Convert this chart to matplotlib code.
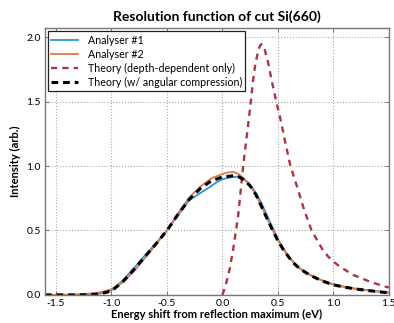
import matplotlib
matplotlib.use("Agg")
import matplotlib.pyplot as plt

plt.rcParams['font.family'] = ['Lato', 'DejaVu Sans']

# Analyser #1 (blue)
x_a1 = [-1.6, -1.3, -1.2, -1.1, -1.0, -0.9, -0.8, -0.7, -0.6, -0.5, -0.4, -0.3, -0.2, -0.1, -0.05,
        0.0, 0.05, 0.1, 0.15, 0.2, 0.25, 0.3, 0.35, 0.4, 0.45, 0.5, 0.55, 0.6, 0.65, 0.7, 0.8, 0.9, 1.0,
        1.1, 1.2, 1.3, 1.4, 1.5]
y_a1 = [0.0, 0.001, 0.004, 0.012, 0.035, 0.11, 0.205, 0.305, 0.40, 0.50, 0.62, 0.735, 0.79, 0.845, 0.875,
        0.898, 0.908, 0.915, 0.918, 0.895, 0.855, 0.795, 0.715, 0.62, 0.525, 0.432, 0.357, 0.295, 0.245,
        0.204, 0.15, 0.11, 0.08, 0.061, 0.047, 0.036, 0.026, 0.017]

# Analyser #2 (orange)
x_a2 = [-1.6, -1.4, -1.3, -1.2, -1.1, -1.0, -0.9, -0.8, -0.7, -0.6, -0.5, -0.4, -0.3, -0.2, -0.1,
        0.0, 0.05, 0.1, 0.15, 0.2, 0.25, 0.3, 0.35, 0.4, 0.45, 0.5, 0.55, 0.6, 0.65, 0.7, 0.8, 0.9, 1.0,
        1.1, 1.2, 1.3, 1.4, 1.5]
y_a2 = [0.0, 0.001, 0.004, 0.01, 0.02, 0.044, 0.095, 0.18, 0.285, 0.39, 0.50, 0.635, 0.755, 0.84, 0.905,
        0.938, 0.95, 0.955, 0.935, 0.895, 0.845, 0.78, 0.69, 0.597, 0.508, 0.424, 0.353, 0.293, 0.243,
        0.203, 0.151, 0.112, 0.082, 0.063, 0.049, 0.038, 0.028, 0.019]

# Theory (depth-dependent only)
x_th1 = [0.0, 0.034, 0.065, 0.096, 0.141, 0.187, 0.226, 0.256, 0.277, 0.298, 0.325, 0.338, 0.352,
         0.367, 0.382, 0.412, 0.442, 0.485, 0.532, 0.562, 0.613, 0.682, 0.727, 0.803, 0.9, 0.95,
         1.0, 1.058, 1.178, 1.328, 1.463, 1.5]
y_th1 = [0.0, 0.09, 0.20, 0.35, 0.61, 1.00, 1.28, 1.50, 1.67, 1.80, 1.90, 1.932, 1.946,
         1.932, 1.90, 1.80, 1.67, 1.50, 1.33, 1.20, 1.00, 0.814, 0.684, 0.50, 0.355, 0.30,
         0.258, 0.22, 0.155, 0.103, 0.065, 0.058]

# Theory (w/ angular compression)
x_th2 = [-1.6, -1.3, -1.2, -1.1, -1.0, -0.9, -0.8, -0.7, -0.6, -0.5, -0.4, -0.3, -0.2, -0.1,
         0.0, 0.1, 0.15, 0.2, 0.25, 0.3, 0.35, 0.4, 0.45, 0.5, 0.55, 0.6, 0.65, 0.7, 0.8, 0.9, 1.0,
         1.1, 1.2, 1.3, 1.4, 1.5]
y_th2 = [0.0, 0.0, 0.001, 0.008, 0.031, 0.10, 0.195, 0.295, 0.395, 0.50, 0.625, 0.74, 0.825, 0.885,
         0.915, 0.925, 0.915, 0.89, 0.845, 0.78, 0.69, 0.595, 0.505, 0.42, 0.35, 0.29, 0.24, 0.20,
         0.148, 0.108, 0.078, 0.06, 0.046, 0.035, 0.025, 0.016]

labels = ["Analyser #1", "Analyser #2", "Theory (depth-dependent only)", "Theory (w/ angular compression)"]
xticks = [-1.5, -1.0, -0.5, 0.0, 0.5, 1.0, 1.5]
yticks = [0.0, 0.5, 1.0, 1.5, 2.0]

fig = plt.figure(figsize=(3.94, 3.23), dpi=100)
ax = fig.add_axes([0.114, 0.087, 0.873, 0.826])

ax.plot(x_a1, y_a1, color='#2a96d4', lw=1.3, label=labels[0])
ax.plot(x_a2, y_a2, color='#e0784a', lw=1.3, label=labels[1])
ax.plot(x_th1, y_th1, color='#ad3442', lw=1.7, ls=(0, (2.6, 2.2)), label=labels[2])
ax.plot(x_th2, y_th2, color='black', lw=2.2, ls=(0, (2.2, 1.6)), label=labels[3])

ax.set_xlim(-1.6, 1.5)
ax.set_ylim(0, 2.07)
ax.set_xticks(xticks)
ax.set_yticks(yticks)
ax.set_xticklabels([f"{t:.1f}" for t in xticks])
ax.set_yticklabels([f"{t:.1f}" for t in yticks])
ax.tick_params(direction='in', top=True, right=True, labelsize=7.5, length=3, width=0.6,
               color='#666666', pad=3)
ax.grid(True, ls=':', color='#aaaaaa', lw=0.8)
for s in ax.spines.values():
    s.set_color('#777777')
    s.set_linewidth(1.0)

ax.set_title("Resolution function of cut Si(660)", fontsize=10, fontweight='bold', pad=5)
ax.set_xlabel("Energy shift from reflection maximum (eV)", fontsize=8, fontweight='bold', labelpad=1)
ax.set_ylabel("Intensity (arb.)", fontsize=8, fontweight='bold', labelpad=4)

leg = ax.legend(loc='upper left', fontsize=7.7, frameon=True, fancybox=False, framealpha=1,
                edgecolor='#222222', handlelength=2.5, borderaxespad=0.3, borderpad=0.3,
                labelspacing=0.3, handletextpad=0.9)
leg.get_frame().set_linewidth(0.9)

fig.savefig("out.png", dpi=100)
